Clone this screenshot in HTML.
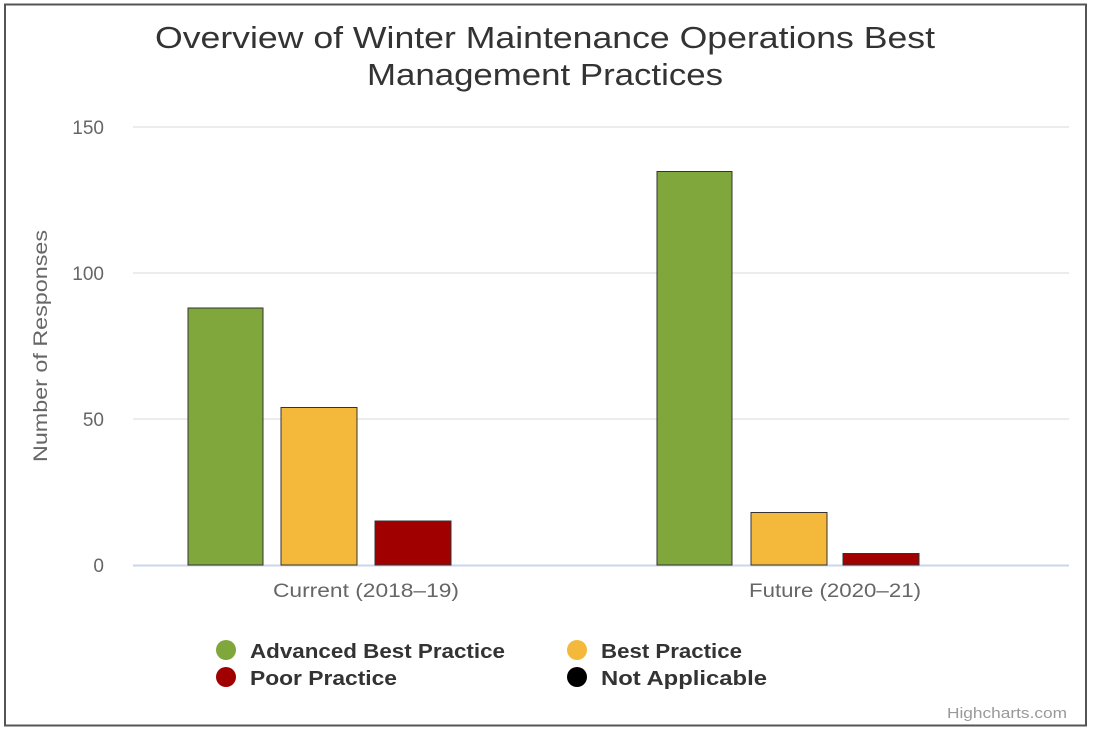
<!DOCTYPE html>
<html><head><meta charset="utf-8"><style>
html,body{margin:0;padding:0;background:#fff;}
svg{display:block;font-family:"Liberation Sans","DejaVu Sans",sans-serif;}
</style></head><body>
<svg width="1100" height="736" viewBox="0 0 1100 736">
<rect x="0" y="0" width="1100" height="736" fill="#fff"/>
<rect x="5" y="4.5" width="1081" height="721" fill="#fff" stroke="#555" stroke-width="2"/>
<text x="545" y="48" text-anchor="middle" font-size="31" fill="#333" textLength="780" lengthAdjust="spacingAndGlyphs">Overview of Winter Maintenance Operations Best</text>
<text x="545" y="85" text-anchor="middle" font-size="31" fill="#333" textLength="356" lengthAdjust="spacingAndGlyphs">Management Practices</text>
<g stroke="#e6e6e6" stroke-width="1.5">
<line x1="133" x2="1069" y1="127" y2="127"/>
<line x1="133" x2="1069" y1="273" y2="273"/>
<line x1="133" x2="1069" y1="419" y2="419"/>
</g>
<line x1="133" x2="1069" y1="565.5" y2="565.5" stroke="#ccd6eb" stroke-width="2"/>
<g font-size="19" fill="#666" text-anchor="end">
<text x="104" y="134">150</text>
<text x="104" y="280">100</text>
<text x="104" y="426">50</text>
<text x="104" y="572">0</text>
</g>
<text transform="translate(47,346) rotate(-90)" text-anchor="middle" font-size="19" fill="#666" textLength="232" lengthAdjust="spacingAndGlyphs">Number of Responses</text>
<g stroke="#333" stroke-width="1">
<rect x="188" y="308" width="75" height="257" fill="#7fa73c"/>
<rect x="281" y="407.5" width="76" height="157.5" fill="#f4b93a"/>
<rect x="375" y="521" width="76" height="44" fill="#a10000"/>
<rect x="657" y="171.5" width="75" height="393.5" fill="#7fa73c"/>
<rect x="751" y="512.5" width="76" height="52.5" fill="#f4b93a"/>
<rect x="843" y="553.5" width="76" height="11.5" fill="#a10000"/>
</g>
<g font-size="19" fill="#666" text-anchor="middle">
<text x="366" y="597" textLength="186" lengthAdjust="spacingAndGlyphs">Current (2018–19)</text>
<text x="835" y="597" textLength="172" lengthAdjust="spacingAndGlyphs">Future (2020–21)</text>
</g>
<circle cx="226" cy="650" r="10" fill="#7fa73c"/>
<circle cx="226" cy="677" r="10" fill="#a10000"/>
<circle cx="577" cy="650" r="10" fill="#f4b93a"/>
<circle cx="577" cy="677" r="10" fill="#000"/>
<g font-size="20" font-weight="bold" fill="#333">
<text x="250" y="658" textLength="255" lengthAdjust="spacingAndGlyphs">Advanced Best Practice</text>
<text x="250" y="685" textLength="147" lengthAdjust="spacingAndGlyphs">Poor Practice</text>
<text x="601" y="658" textLength="141" lengthAdjust="spacingAndGlyphs">Best Practice</text>
<text x="601" y="685" textLength="166" lengthAdjust="spacingAndGlyphs">Not Applicable</text>
</g>
<text x="1067" y="718" text-anchor="end" font-size="15" fill="#999" textLength="120" lengthAdjust="spacingAndGlyphs">Highcharts.com</text>
</svg>
</body></html>
